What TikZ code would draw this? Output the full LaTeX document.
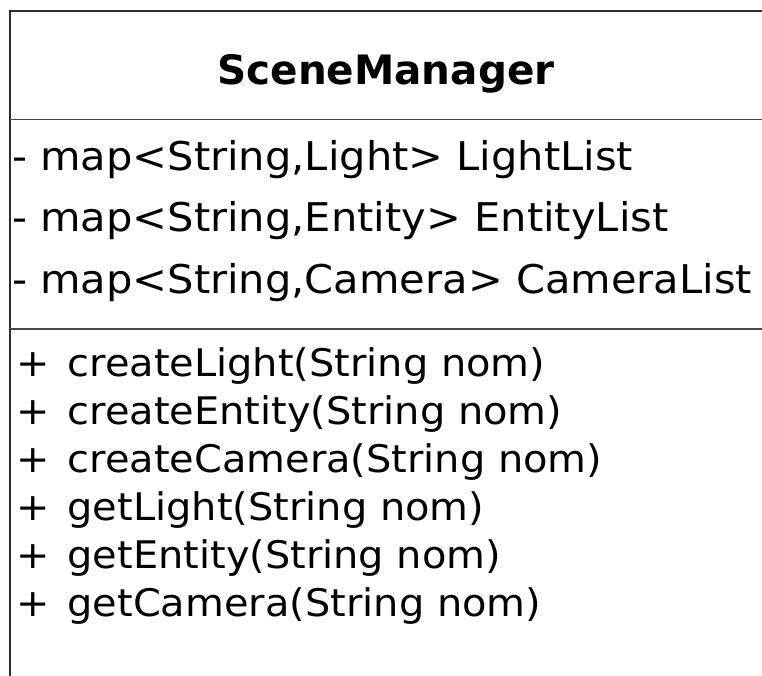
\documentclass[tikz,border=0pt]{standalone}
\usepackage{fontspec}
\setmainfont{DejaVu Sans}
% slightly widened face for the compartment rows
\newfontfamily\rowfont[FakeStretch=1.05]{DejaVu Sans}
% visibility marker of an operation, followed by a wide gap
\newcommand{\pubop}{+\hspace{18pt}}
\tikzset{
  frame/.style={line width=2.4pt, draw=black!82},
  divider/.style={line width=1.6pt, draw=black!72},
  classname/.style={anchor=base, inner sep=0pt, font=\bfseries\fontsize{40.5}{40.5}\selectfont},
  attr/.style={anchor=base west, inner sep=0pt, font=\rowfont\fontsize{39.6}{39.6}\selectfont},
  oper/.style={anchor=base west, inner sep=0pt, font=\rowfont\fontsize{38}{38}\selectfont},
}
\begin{document}
\begin{tikzpicture}[x=1pt, y=-1pt]
  \useasboundingbox (0,0) rectangle (762,675);
  \fill[white] (0,0) rectangle (762,675);
  \begin{scope}
    \clip (0,0) rectangle (762,675);
    % class outline: open to the right and bottom
    \coordinate (tl) at (10,11);
    \coordinate (tr) at (780,11);
    \coordinate (bl) at (10,700);
    \draw[frame] (tr) -- (tl) -- (bl);
    % compartment dividers
    \coordinate (d1l) at (10,119.5);
    \coordinate (d1r) at (780,119.5);
    \coordinate (d2l) at (10,329);
    \coordinate (d2r) at (780,329);
    \draw[divider] (d1l) -- (d1r);
    \draw[divider] (d2l) -- (d2r);
  \end{scope}
  % class name
  \node[classname] (name) at (386,84) {SceneManager};
  % attributes
  \node[attr] (a1) at (12,170) {- map<String,Light> LightList};
  \node[attr] (a2) at (12,231.5) {- map<String,Entity> EntityList};
  \node[attr] (a3) at (12,293) {- map<String,Camera> CameraList};
  % operations
  \node[oper] (o1) at (16,376) {\pubop createLight(String nom)};
  \node[oper] (o2) at (16,424) {\pubop createEntity(String nom)};
  \node[oper] (o3) at (16,472) {\pubop createCamera(String nom)};
  \node[oper] (o4) at (16,520) {\pubop getLight(String nom)};
  \node[oper] (o5) at (16,568) {\pubop getEntity(String nom)};
  \node[oper] (o6) at (16,616) {\pubop getCamera(String nom)};
\end{tikzpicture}
\end{document}
